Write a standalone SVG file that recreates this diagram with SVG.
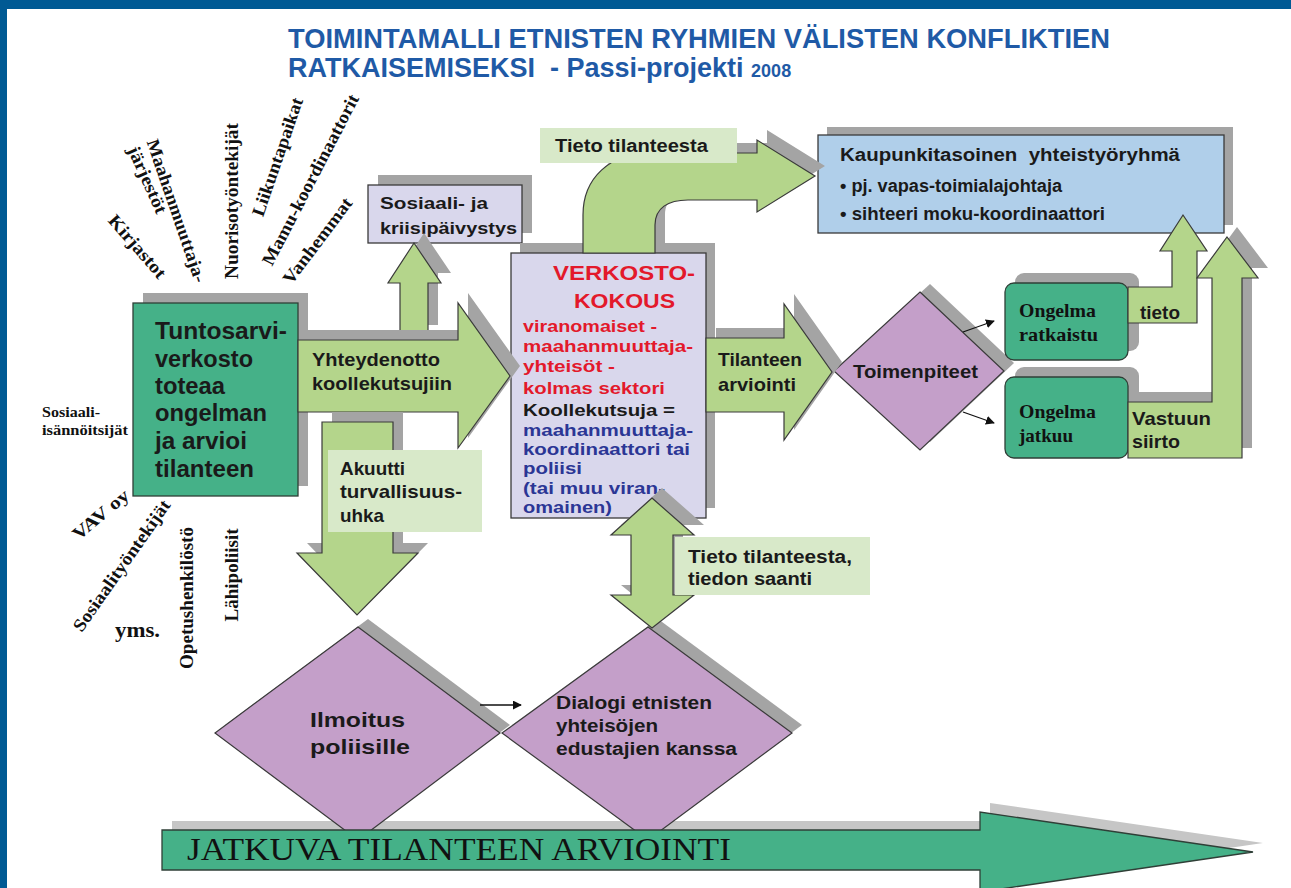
<svg xmlns="http://www.w3.org/2000/svg" width="1291" height="888" viewBox="0 0 1291 888">
<style>
.sh{fill:#a4a4a4}
.ar{fill:#b4d58b;stroke:#3a3a3a;stroke-width:1.2;stroke-linejoin:miter}
.lb{fill:#d8e9c9}
.dg{fill:#45b188;stroke:#2f3f37;stroke-width:1.3}
.pu{fill:#c49fc9;stroke:#3a3a3a;stroke-width:1.2}
.lv{fill:#d9d7ec;stroke:#3a3a3a;stroke-width:1.3}
.bl{fill:#b0cfea;stroke:#3a3a3a;stroke-width:1.3}
.t{font-family:"Liberation Sans",Arial,sans-serif;font-weight:bold;fill:#1a1a1a}
.s{font-family:"Liberation Serif","Times New Roman",serif;font-weight:bold;fill:#111}
.rt{font-family:"Liberation Serif","Times New Roman",serif;font-weight:bold;fill:#111;font-size:18px;text-anchor:middle}
.red{fill:#e3192b}
.blu{fill:#2b3695}
.sm{stroke:#111;stroke-width:1.3;fill:none}
</style>
<defs>
<marker id="ah" viewBox="0 0 10 10" refX="9" refY="5" markerWidth="9" markerHeight="9" markerUnits="userSpaceOnUse" orient="auto">
<path d="M0,0 L10,5 L0,10 Z" fill="#111"/>
</marker>
</defs>
<rect x="0" y="0" width="1291" height="888" fill="#ffffff"/>
<rect x="0" y="0" width="1291" height="9" fill="#005a94"/>
<rect x="0" y="0" width="7" height="888" fill="#005a94"/>

<g id="title" class="t">
<text x="288" y="48" font-size="27" textLength="822" lengthAdjust="spacingAndGlyphs" style="fill:#1f5aa6">TOIMINTAMALLI ETNISTEN RYHMIEN VÄLISTEN KONFLIKTIEN</text>
<text x="288" y="77" font-size="27" style="fill:#1f5aa6">RATKAISEMISEKSI&#160; - Passi-projekti <tspan font-size="18">2008</tspan></text>
</g>

<g id="actors">
<text class="rt" transform="translate(137,247) rotate(49)" dy="0.3em" textLength="78" lengthAdjust="spacingAndGlyphs">Kirjastot</text>
<text class="rt" transform="translate(176,211) rotate(71)" dy="0.3em" textLength="150" lengthAdjust="spacingAndGlyphs">Maahanmuuttaja-</text>
<text class="rt" transform="translate(147,180) rotate(66)" dy="0.3em" textLength="72" lengthAdjust="spacingAndGlyphs">järjestöt</text>
<text class="rt" transform="translate(233,201) rotate(-90)" dy="0.3em" textLength="156" lengthAdjust="spacingAndGlyphs">Nuorisotyöntekijät</text>
<text class="rt" transform="translate(278,157) rotate(-71)" dy="0.3em" textLength="124" lengthAdjust="spacingAndGlyphs">Liikuntapaikat</text>
<text class="rt" transform="translate(311,180) rotate(-62.6)" dy="0.3em" textLength="190" lengthAdjust="spacingAndGlyphs">Mamu-koordinaattorit</text>
<text class="rt" transform="translate(318,241) rotate(-53)" dy="0.3em" textLength="103" lengthAdjust="spacingAndGlyphs">Vanhemmat</text>
<text class="s" x="42" y="417" font-size="14" textLength="58" lengthAdjust="spacingAndGlyphs">Sosiaali-</text>
<text class="s" x="42" y="435" font-size="14" textLength="86" lengthAdjust="spacingAndGlyphs">isännöitsijät</text>
<text class="rt" transform="translate(101,515) rotate(-40)" dy="0.3em" textLength="68" lengthAdjust="spacingAndGlyphs">VAV oy</text>
<text class="rt" transform="translate(122,566) rotate(-55)" dy="0.3em" textLength="156" lengthAdjust="spacingAndGlyphs">Sosiaalityöntekijät</text>
<text class="rt" transform="translate(188,598) rotate(-90)" dy="0.3em" textLength="142" lengthAdjust="spacingAndGlyphs">Opetushenkilöstö</text>
<text class="rt" transform="translate(233,575) rotate(-90)" dy="0.3em" textLength="93" lengthAdjust="spacingAndGlyphs">Lähipoliisit</text>
<text class="s" x="115" y="637" font-size="20" textLength="45" lengthAdjust="spacingAndGlyphs">yms.</text>
</g>

<g id="timeline-shadow">
<path d="M172,821 L990,821 L990,803 L1263,843 L990,883 L990,861 L172,861 Z" fill="#c6c6c6"/>
</g>

<g id="tuntosarvi">
<rect class="sh" x="143" y="293" width="165" height="193"/>
<rect class="dg" x="133" y="303" width="165" height="193"/>
<g class="t" font-size="23">
<text x="155" y="339" textLength="132" lengthAdjust="spacingAndGlyphs">Tuntosarvi-</text>
<text x="155" y="367" textLength="98" lengthAdjust="spacingAndGlyphs">verkosto</text>
<text x="155" y="394" textLength="70" lengthAdjust="spacingAndGlyphs">toteaa</text>
<text x="155" y="421" textLength="112" lengthAdjust="spacingAndGlyphs">ongelman</text>
<text x="155" y="449" textLength="92" lengthAdjust="spacingAndGlyphs">ja arvioi</text>
<text x="155" y="477" textLength="99" lengthAdjust="spacingAndGlyphs">tilanteen</text>
</g>
</g>

<g id="sosiaali">
<rect class="sh" x="378" y="175" width="154" height="58"/>
<rect class="lv" x="368" y="185" width="154" height="58"/>
<text class="t" x="380" y="209" font-size="17" textLength="108" lengthAdjust="spacingAndGlyphs">Sosiaali- ja</text>
<text class="t" x="380" y="234" font-size="17" textLength="137" lengthAdjust="spacingAndGlyphs">kriisipäivystys</text>
</g>

<g id="verkosto">
<rect class="sh" x="520" y="243" width="195" height="265"/>
<rect class="lv" x="511" y="253" width="195" height="265"/>
<g class="t" font-size="17">
<text class="red" x="553" y="280" font-size="21" textLength="142" lengthAdjust="spacingAndGlyphs">VERKOSTO-</text>
<text class="red" x="574" y="308" font-size="21" textLength="101" lengthAdjust="spacingAndGlyphs">KOKOUS</text>
<text class="red" x="523" y="332" textLength="134" lengthAdjust="spacingAndGlyphs">viranomaiset -</text>
<text class="red" x="523" y="352" textLength="170" lengthAdjust="spacingAndGlyphs">maahanmuuttaja-</text>
<text class="red" x="523" y="372" textLength="92" lengthAdjust="spacingAndGlyphs">yhteisöt -</text>
<text class="red" x="523" y="394" textLength="142" lengthAdjust="spacingAndGlyphs">kolmas sektori</text>
<text x="523" y="416" textLength="152" lengthAdjust="spacingAndGlyphs">Koollekutsuja =</text>
<text class="blu" x="523" y="436" textLength="170" lengthAdjust="spacingAndGlyphs">maahanmuuttaja-</text>
<text class="blu" x="523" y="455" textLength="167" lengthAdjust="spacingAndGlyphs">koordinaattori tai</text>
<text class="blu" x="523" y="474" textLength="59" lengthAdjust="spacingAndGlyphs">poliisi</text>
<text class="blu" x="523" y="494" font-size="16" textLength="142" lengthAdjust="spacingAndGlyphs">(tai muu viran-</text>
<text class="blu" x="523" y="513" font-size="16" textLength="89" lengthAdjust="spacingAndGlyphs">omainen)</text>
</g>
</g>

<g id="kaupunki">
<rect class="sh" x="827" y="127" width="406" height="98"/>
<rect class="bl" x="818" y="135" width="406" height="98"/>
<g class="t" font-size="18">
<text x="840" y="161" textLength="340" lengthAdjust="spacingAndGlyphs">Kaupunkitasoinen&#160; yhteistyöryhmä</text>
<text x="840" y="192" textLength="222" lengthAdjust="spacingAndGlyphs">• pj. vapas-toimialajohtaja</text>
<text x="840" y="220" textLength="265" lengthAdjust="spacingAndGlyphs">• sihteeri moku-koordinaattori</text>
</g>
</g>

<g id="toimenpiteet">
<path class="sh" d="M930,284 L1014,363 L930,442 L844,363 Z"/>
<path class="pu" d="M920,292 L1004,371 L920,450 L834,371 Z"/>
<text class="t" x="853" y="378" font-size="18" textLength="125" lengthAdjust="spacingAndGlyphs">Toimenpiteet</text>
</g>

<g id="ratkaistu">
<rect class="sh" x="1015" y="273" width="124" height="78" rx="9"/>
<rect class="dg" x="1005" y="283" width="123" height="77" rx="9"/>
<text class="s" x="1019" y="317" font-size="19" textLength="77" lengthAdjust="spacingAndGlyphs">Ongelma</text>
<text class="s" x="1019" y="341" font-size="19" textLength="79" lengthAdjust="spacingAndGlyphs">ratkaistu</text>
</g>

<g id="jatkuu">
<rect class="sh" x="1015" y="367" width="124" height="81" rx="9"/>
<rect class="dg" x="1005" y="377" width="123" height="81" rx="9"/>
<text class="s" x="1019" y="418" font-size="19" textLength="77" lengthAdjust="spacingAndGlyphs">Ongelma</text>
<text class="s" x="1019" y="442" font-size="19" textLength="54" lengthAdjust="spacingAndGlyphs">jatkuu</text>
</g>

<g id="ilmoitus">
<path class="sh" d="M368,619 L510,725 L368,832 L225,725 Z"/>
<path class="pu" d="M358,627 L500,733 L358,840 L215,733 Z"/>
<text class="t" x="310" y="727" font-size="21" textLength="95" lengthAdjust="spacingAndGlyphs">Ilmoitus</text>
<text class="t" x="310" y="754" font-size="21" textLength="100" lengthAdjust="spacingAndGlyphs">poliisille</text>
</g>

<g id="dialogi">
<path class="sh" d="M658,619 L802,725 L658,832 L512,725 Z"/>
<path class="pu" d="M648,627 L792,733 L648,840 L502,733 Z"/>
<text class="t" x="556" y="709" font-size="18" textLength="156" lengthAdjust="spacingAndGlyphs">Dialogi etnisten</text>
<text class="t" x="556" y="732" font-size="18" textLength="102" lengthAdjust="spacingAndGlyphs">yhteisöjen</text>
<text class="t" x="556" y="755" font-size="18" textLength="181" lengthAdjust="spacingAndGlyphs">edustajien kanssa</text>
</g>

<g id="connectors">
<path class="sh" d="M593,243 L593,205 C593,168 620,143 660,143 L767,143 L767,130 L825,166 L767,202 L767,190 L698,190 C678,190 665,198 665,215 L665,243 Z"/>
<path class="ar" d="M583,253 L583,215 C583,178 610,153 650,153 L757,153 L757,140 L815,176 L757,212 L757,200 L688,200 C668,200 655,208 655,225 L655,253 Z"/>
<path class="sh" d="M410,325 L410,273 L398,273 L424,233 L451,273 L438,273 L438,325 Z"/>
<path class="ar" d="M400,335 L400,283 L388,283 L414,243 L441,283 L428,283 L428,335 Z"/>
<path class="sh" d="M308,330 L468,330 L468,293 L520,366 L468,438 L468,402 L308,402 Z"/>
<path class="ar" d="M298,340 L458,340 L458,303 L510,376 L458,448 L458,412 L298,412 Z"/>
<path class="sh" d="M332,412 L403,412 L403,543 L428,543 L367,605 L307,543 L332,543 Z"/>
<path class="ar" d="M322,422 L393,422 L393,553 L418,553 L357,615 L297,553 L322,553 Z"/>
<path class="sh" d="M716,328 L794,328 L794,294 L842,362 L794,430 L794,402 L716,402 Z"/>
<path class="ar" d="M706,338 L784,338 L784,304 L832,372 L784,440 L784,412 L706,412 Z"/>
<path class="sh" d="M662,488 L704,525 L683,525 L683,585 L704,585 L662,618 L621,585 L641,585 L641,525 L621,525 Z"/>
<path class="ar" d="M652,498 L694,535 L673,535 L673,595 L694,595 L652,628 L611,595 L631,595 L631,535 L611,535 Z"/>
<path class="ar" d="M1128,323 L1197,323 L1197,251 L1207,251 L1183,215 L1160,251 L1172,251 L1172,287 L1128,287 Z"/>
<path class="sh" d="M1138,448 L1252,448 L1252,268 L1268,268 L1237,227 L1207,268 L1222,268 L1222,392 L1138,392 Z"/>
<path class="ar" d="M1128,458 L1242,458 L1242,278 L1258,278 L1227,237 L1197,278 L1212,278 L1212,402 L1128,402 Z"/>
<line class="sm" x1="963" y1="332" x2="994" y2="321" marker-end="url(#ah)"/>
<line class="sm" x1="963" y1="412" x2="994" y2="423" marker-end="url(#ah)"/>
<line class="sm" x1="480" y1="705" x2="521" y2="705" marker-end="url(#ah)"/>
<text class="t" x="1140" y="319" font-size="18" textLength="40" lengthAdjust="spacingAndGlyphs">tieto</text>
<text class="t" x="1132" y="425" font-size="18.5" textLength="79" lengthAdjust="spacingAndGlyphs">Vastuun</text>
<text class="t" x="1132" y="448" font-size="18.5" textLength="48" lengthAdjust="spacingAndGlyphs">siirto</text>
<text class="t" x="312" y="366" font-size="18.5" textLength="128" lengthAdjust="spacingAndGlyphs">Yhteydenotto</text>
<text class="t" x="312" y="390" font-size="18.5" textLength="140" lengthAdjust="spacingAndGlyphs">koollekutsujiin</text>
<text class="t" x="718" y="366" font-size="18.5" textLength="84" lengthAdjust="spacingAndGlyphs">Tilanteen</text>
<text class="t" x="718" y="391" font-size="18.5" textLength="78" lengthAdjust="spacingAndGlyphs">arviointi</text>
</g>

<g id="label-tieto-top">
<rect class="lb" x="540" y="128" width="197" height="35"/>
<text class="t" x="555" y="152" font-size="18" textLength="153" lengthAdjust="spacingAndGlyphs">Tieto tilanteesta</text>
</g>

<g id="label-akuutti">
<rect class="lb" x="328" y="450" width="154" height="82"/>
<text class="t" x="340" y="475" font-size="18.5" textLength="65" lengthAdjust="spacingAndGlyphs">Akuutti</text>
<text class="t" x="340" y="498" font-size="18.5" textLength="122" lengthAdjust="spacingAndGlyphs">turvallisuus-</text>
<text class="t" x="340" y="522" font-size="18.5" textLength="44" lengthAdjust="spacingAndGlyphs">uhka</text>
</g>

<g id="label-tieto-bottom">
<rect class="lb" x="675" y="537" width="195" height="58"/>
<text class="t" x="688" y="563" font-size="18" textLength="164" lengthAdjust="spacingAndGlyphs">Tieto tilanteesta,</text>
<text class="t" x="688" y="585" font-size="18" textLength="124" lengthAdjust="spacingAndGlyphs">tiedon saanti</text>
</g>

<g id="timeline">
<path class="dg" d="M162,830 L980,830 L980,812 L1253,852 L980,892 L980,870 L162,870 Z"/>
<text x="187" y="860" font-family="Liberation Serif, Times New Roman, serif" font-size="31" fill="#111" textLength="544" lengthAdjust="spacingAndGlyphs">JATKUVA TILANTEEN ARVIOINTI</text>
</g>
</svg>
